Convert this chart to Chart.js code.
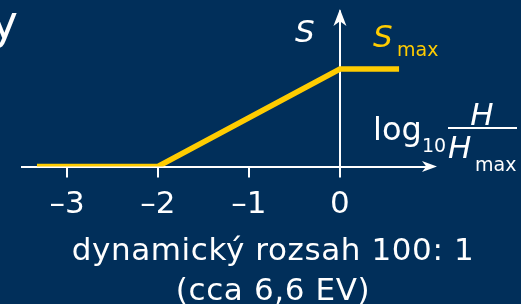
<!DOCTYPE html>
<html>
<head>
<meta charset="utf-8">
<script src="https://cdn.jsdelivr.net/npm/chart.js@4.4.1/dist/chart.umd.min.js"></script>
<style>
  html, body { margin: 0; padding: 0; background: #012f5a; }
</style>
</head>
<body>
<canvas id="myChart" width="521" height="304"></canvas>
<script>
// S vs log10(H/Hmax) response curve
const logH = [-3.33, -2, 0, 0.65];
const signal = [0, 0, 1, 1];
const tickValues = [-3, -2, -1, 0];
const caption = ['dynamický rozsah 100: 1', '(cca 6,6 EV)'];

const BG = '#012f5a';
const YELLOW = '#ffcc00';
const FONT = "'DejaVu Sans', Verdana, sans-serif";

function stealthArrow(ctx, tx, ty, dir, len, half) {
  ctx.save();
  ctx.translate(tx, ty);
  if (dir === 'up') ctx.rotate(-Math.PI / 2);
  ctx.beginPath();
  ctx.moveTo(0, 0);
  ctx.lineTo(-len, -half);
  ctx.lineTo(-len * 0.72, 0);
  ctx.lineTo(-len, half);
  ctx.closePath();
  ctx.fill();
  ctx.restore();
}

function text(ctx, str, x, y, size, opts) {
  opts = opts || {};
  ctx.font = (opts.italic ? 'italic ' : '') + size + 'px ' + FONT;
  ctx.fillStyle = opts.color || '#fff';
  ctx.textAlign = opts.align || 'left';
  ctx.textBaseline = 'alphabetic';
  ctx.letterSpacing = opts.spacing || '0px';
  ctx.fillText(str, x, y);
  ctx.letterSpacing = '0px';
}

const labelsPlugin = {
  id: 'labels',
  beforeDraw(chart) {
    const ctx = chart.ctx;
    ctx.save();
    ctx.fillStyle = BG;
    ctx.fillRect(0, 0, chart.width, chart.height);
    ctx.restore();
  },
  afterDraw(chart) {
    const ctx = chart.ctx;
    const x = chart.scales.x, y = chart.scales.y;
    const x0 = x.getPixelForValue(0);
    const y0 = y.getPixelForValue(0);
    ctx.save();
    ctx.fillStyle = '#fff';
    stealthArrow(ctx, chart.chartArea.right + 7, y0, 'right', 15, 5.5);
    stealthArrow(ctx, x0, chart.chartArea.top - 1.5, 'up', 17, 6.5);

    // cut-off title letter
    text(ctx, 'y', 18, 38, 46, { align: 'right' });

    // axis names
    text(ctx, 'S', 295, 42, 31, { italic: true });
    text(ctx, 'S', 373, 47, 31, { italic: true, color: YELLOW });
    text(ctx, 'max', 397, 56, 19, { color: YELLOW });

    text(ctx, 'log', 373, 140, 32);
    text(ctx, '10', 422, 152, 19);
    text(ctx, 'H', 482, 125, 31, { italic: true, align: 'center' });
    ctx.fillStyle = '#fff';
    ctx.fillRect(448, 127, 69, 2);
    text(ctx, 'H', 448, 158, 31, { italic: true });
    text(ctx, 'max', 475, 171, 19);

    // caption under the axis
    text(ctx, caption[0], 273, 260, 31, { align: 'center', spacing: '0.6px' });
    text(ctx, caption[1], 273, 300, 31, { align: 'center', spacing: '0.6px' });
    ctx.restore();
  }
};

const ctx = document.getElementById('myChart').getContext('2d');
const myChart = new Chart(ctx, {
  type: 'scatter',
  data: {
    datasets: [{
      data: logH.map((v, i) => ({ x: v, y: signal[i] })),
      showLine: true,
      borderColor: YELLOW,
      borderWidth: 5.5,
      pointRadius: 0,
      tension: 0,
      fill: false
    }]
  },
  options: {
    responsive: false,
    animation: false,
    devicePixelRatio: 1,
    layout: { padding: { left: 21.5, right: 91, top: 10.5, bottom: 0 } },
    plugins: { legend: { display: false }, tooltip: { enabled: false } },
    scales: {
      x: {
        type: 'linear',
        position: 'bottom',
        min: -3.5,
        max: 0.99,
        afterFit: (scale) => { scale.height = 137.5; },
        afterBuildTicks: (scale) => { scale.ticks = tickValues.map(v => ({ value: v })); },
        border: { display: true, color: '#fff', width: 2 },
        grid: {
          drawOnChartArea: true,
          color: (c) => (c.tick && c.tick.value === 0 ? '#fff' : 'rgba(0,0,0,0)'),
          lineWidth: 2,
          tickColor: '#fff',
          tickWidth: 2,
          tickLength: 11
        },
        ticks: {
          color: '#fff',
          padding: 9,
          font: { family: FONT, size: 31 },
          callback: (v) => (v < 0 ? '\u2013' + Math.abs(v) : String(v))
        }
      },
      y: {
        type: 'linear',
        display: false,
        min: 0,
        max: 1.6
      }
    }
  },
  plugins: [labelsPlugin]
});
</script>
</body>
</html>
